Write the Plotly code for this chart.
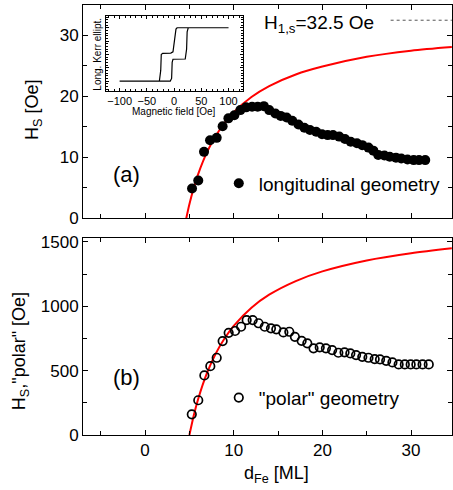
import plotly.graph_objects as go

# ---------------- data ----------------
long_d = [5.3, 6.0, 6.65, 7.33, 8.08, 8.75, 9.4, 10.07, 10.75, 11.4, 12.07, 12.7, 13.4, 14.0,
          14.7, 15.3, 15.97, 16.6, 17.3, 17.97, 18.6, 19.3, 19.96, 20.6, 21.2, 21.9, 22.55,
          23.2, 23.9, 24.5, 25.2, 25.75, 26.3, 27.0, 27.6, 28.3, 28.9, 29.6, 30.3, 30.9, 31.6]
long_H = [4.9, 6.2, 10.9, 12.8, 13.2, 15.1, 16.4, 16.9, 17.75, 18.2, 18.3, 18.3, 18.4, 17.75,
          17.2, 16.8, 16.55, 16.0, 15.4, 14.85, 14.5, 14.2, 13.8, 13.65, 13.65, 13.4, 13.0,
          12.55, 12.3, 12.0, 11.6, 11.1, 10.4, 10.3, 10.1, 9.95, 9.8, 9.65, 9.55, 9.55, 9.55]

polar_d = [5.27, 6.0, 6.69, 7.36, 8.08, 8.75, 9.43, 10.15, 10.83, 11.46, 12.14, 12.8, 13.5,
           14.2, 14.8, 15.6, 16.27, 16.9, 17.66, 18.3, 19.0, 19.7, 20.4, 21.1, 21.8, 22.5,
           23.15, 23.8, 24.5, 25.2, 25.9, 26.5, 27.2, 27.9, 28.6, 29.3, 29.96, 30.6, 31.3, 32.0]
polar_H = [161, 270, 463, 535, 600, 730, 794, 808, 841, 893, 893, 868, 841, 829, 821, 797,
           802, 763, 732, 712, 673, 681, 673, 660, 639, 642, 634, 621, 607, 600, 590, 587,
           576, 564, 548, 548, 548, 548, 548, 548]

fit_long_d = [4.65, 5.0, 5.5, 6, 7, 8, 9, 10, 12, 14, 17, 20, 25, 30, 34.6]
fit_long_H = [0, 2.3, 5.0, 7.3, 10.9, 13.6, 15.7, 17.4, 19.9, 21.7, 23.6, 24.9, 26.5, 27.5, 28.1]

fit_polar_d = [5.0, 5.5, 6, 7, 8, 9, 10, 12, 14, 17, 20, 25, 30, 34.6]
fit_polar_H = [0, 154, 282, 484, 636, 753, 848, 989, 1090, 1196, 1271, 1356, 1412, 1450]

H1s_value = 32.5
H1s_d = [27.7, 34.6]

# inset hysteresis loop (field in Oe, Kerr ellipticity in arb. units)
loop_field = [-100, -27, -24.5, -23.5, -21, -6, -2, 1, 3.5, 5.5, 100,
              100, 26, 24, 23, 20.5, -2, -3.5, -4.5, -7, -100]
loop_kerr = [-1, -1, -0.6, 0.0, 0.04, 0.05, 0.1, 0.5, 0.95, 1, 1,
             1, 1, 0.85, 0.2, -0.17, -0.18, -0.3, -0.9, -1, -1]

# ---------------- figure ----------------
FONT = "Liberation Sans, Arial, sans-serif"
fig = go.Figure()

fig.add_trace(go.Scatter(x=fit_long_d, y=fit_long_H, mode="lines", line=dict(color="#ff0000", width=2, shape="spline", smoothing=0.8),
                         xaxis="x2", yaxis="y", showlegend=False, hoverinfo="skip"))
fig.add_trace(go.Scatter(x=H1s_d, y=[H1s_value, H1s_value], mode="lines", line=dict(color="#555555", width=1, dash="dot"),
                         xaxis="x2", yaxis="y", showlegend=False))
fig.add_trace(go.Scatter(x=long_d, y=long_H, mode="markers", name="longitudinal geometry",
                         marker=dict(symbol="circle", size=10, color="black"),
                         xaxis="x2", yaxis="y", legend="legend"))

fig.add_trace(go.Scatter(x=fit_polar_d, y=fit_polar_H, mode="lines", line=dict(color="#ff0000", width=2, shape="spline", smoothing=0.8),
                         xaxis="x", yaxis="y2", showlegend=False, hoverinfo="skip"))
fig.add_trace(go.Scatter(x=polar_d, y=polar_H, mode="markers", name="\"polar\" geometry",
                         marker=dict(symbol="circle-open", size=8.5, color="black", line=dict(width=1.7, color="black")),
                         xaxis="x", yaxis="y2", legend="legend2"))

fig.add_trace(go.Scatter(x=loop_field, y=loop_kerr, mode="lines", line=dict(color="black", width=1.2),
                         xaxis="x3", yaxis="y3", showlegend=False))

axis_common = dict(showline=True, linecolor="black", linewidth=1, mirror="ticks", ticks="inside",
                   ticklen=5, tickcolor="black", tickwidth=1, showgrid=False, zeroline=False,
                   automargin=False,
                   tickfont=dict(family=FONT, size=17, color="black"))

XR = [-7, 34.62]
fig.update_layout(
    template="none",
    width=453, height=490,
    margin=dict(l=83, r=1, t=5, b=55, autoexpand=False),
    paper_bgcolor="white", plot_bgcolor="white",
    font=dict(family=FONT, color="black"),
    xaxis=dict(domain=[0, 1], anchor="y2", range=XR, dtick=10, tick0=0,
               minor=dict(dtick=5, ticks="inside", ticklen=4, tickcolor="black"), **axis_common),
    xaxis2=dict(domain=[0, 1], anchor="y", range=XR, dtick=10, tick0=0, showticklabels=False,
                minor=dict(dtick=5, ticks="inside", ticklen=4, tickcolor="black"), **axis_common),
    yaxis=dict(domain=[0.504, 1], anchor="x2", range=[0, 35], dtick=10,
               minor=dict(dtick=5, ticks="inside", ticklen=4, tickcolor="black"), **axis_common),
    yaxis2=dict(domain=[0, 0.458], anchor="x", range=[0, 1530], dtick=500,
                minor=dict(dtick=250, ticks="inside", ticklen=4, tickcolor="black"), **axis_common),
    xaxis3=dict(domain=[0.0623, 0.4328], anchor="y3", range=[-125, 126], dtick=50,
                showline=True, linecolor="black", linewidth=1, mirror="ticks", ticks="inside",
                ticklen=3, tickcolor="black", showgrid=False, zeroline=False, automargin=False,
                tickfont=dict(family=FONT, size=11, color="black"),
                minor=dict(dtick=10, ticks="inside", ticklen=2, tickcolor="black")),
    yaxis3=dict(domain=[0.80, 0.975], anchor="x3", range=[-1.37, 1.45], dtick=0.5,
                showline=True, linecolor="black", linewidth=1, mirror="ticks", ticks="inside",
                ticklen=3, tickcolor="black", showgrid=False, zeroline=False, showticklabels=False,
                automargin=False,
                minor=dict(dtick=0.1, ticks="inside", ticklen=2, tickcolor="black")),
    legend=dict(x=0.368, y=0.585, xanchor="left", yanchor="middle", bgcolor="rgba(0,0,0,0)",
                font=dict(family=FONT, size=19, color="black"), borderwidth=0),
    legend2=dict(x=0.368, y=0.0867, xanchor="left", yanchor="middle", bgcolor="rgba(0,0,0,0)",
                 font=dict(family=FONT, size=19, color="black"), borderwidth=0),
    showlegend=True,
)

ann = [
    dict(text="(a)", x=0.119, y=0.605, font=dict(size=22)),
    dict(text="(b)", x=0.119, y=0.1326, font=dict(size=22)),
    dict(text="H<sub>1,s</sub>=32.5 Oe", x=0.485, y=0.956, xanchor="left", font=dict(size=19)),
    dict(text="H<sub>S</sub> [Oe]", x=-0.1328, y=0.756, textangle=-90, font=dict(size=18)),
    dict(text="H<sub>S</sub>,\"polar\" [Oe]", x=-0.1707, y=0.195, textangle=-90, font=dict(size=18)),
    dict(text="d<sub>Fe</sub> [ML]", x=0.524, y=-0.093, font=dict(size=18)),
    dict(text="Long. Kerr ellipt.", x=0.037, y=0.886, textangle=-90, font=dict(size=10)),
    dict(text="Magnetic field [Oe]", x=0.2466, y=0.752, font=dict(size=10)),
]
for a in ann:
    a.setdefault("xanchor", "center")
    a.update(xref="paper", yref="paper", yanchor="middle", showarrow=False)
    a["font"] = dict(family=FONT, color="black", **a["font"])
fig.update_layout(annotations=ann)

fig.write_html("out.html", config={"displayModeBar": False},
               post_script="document.body.style.margin='0';")
